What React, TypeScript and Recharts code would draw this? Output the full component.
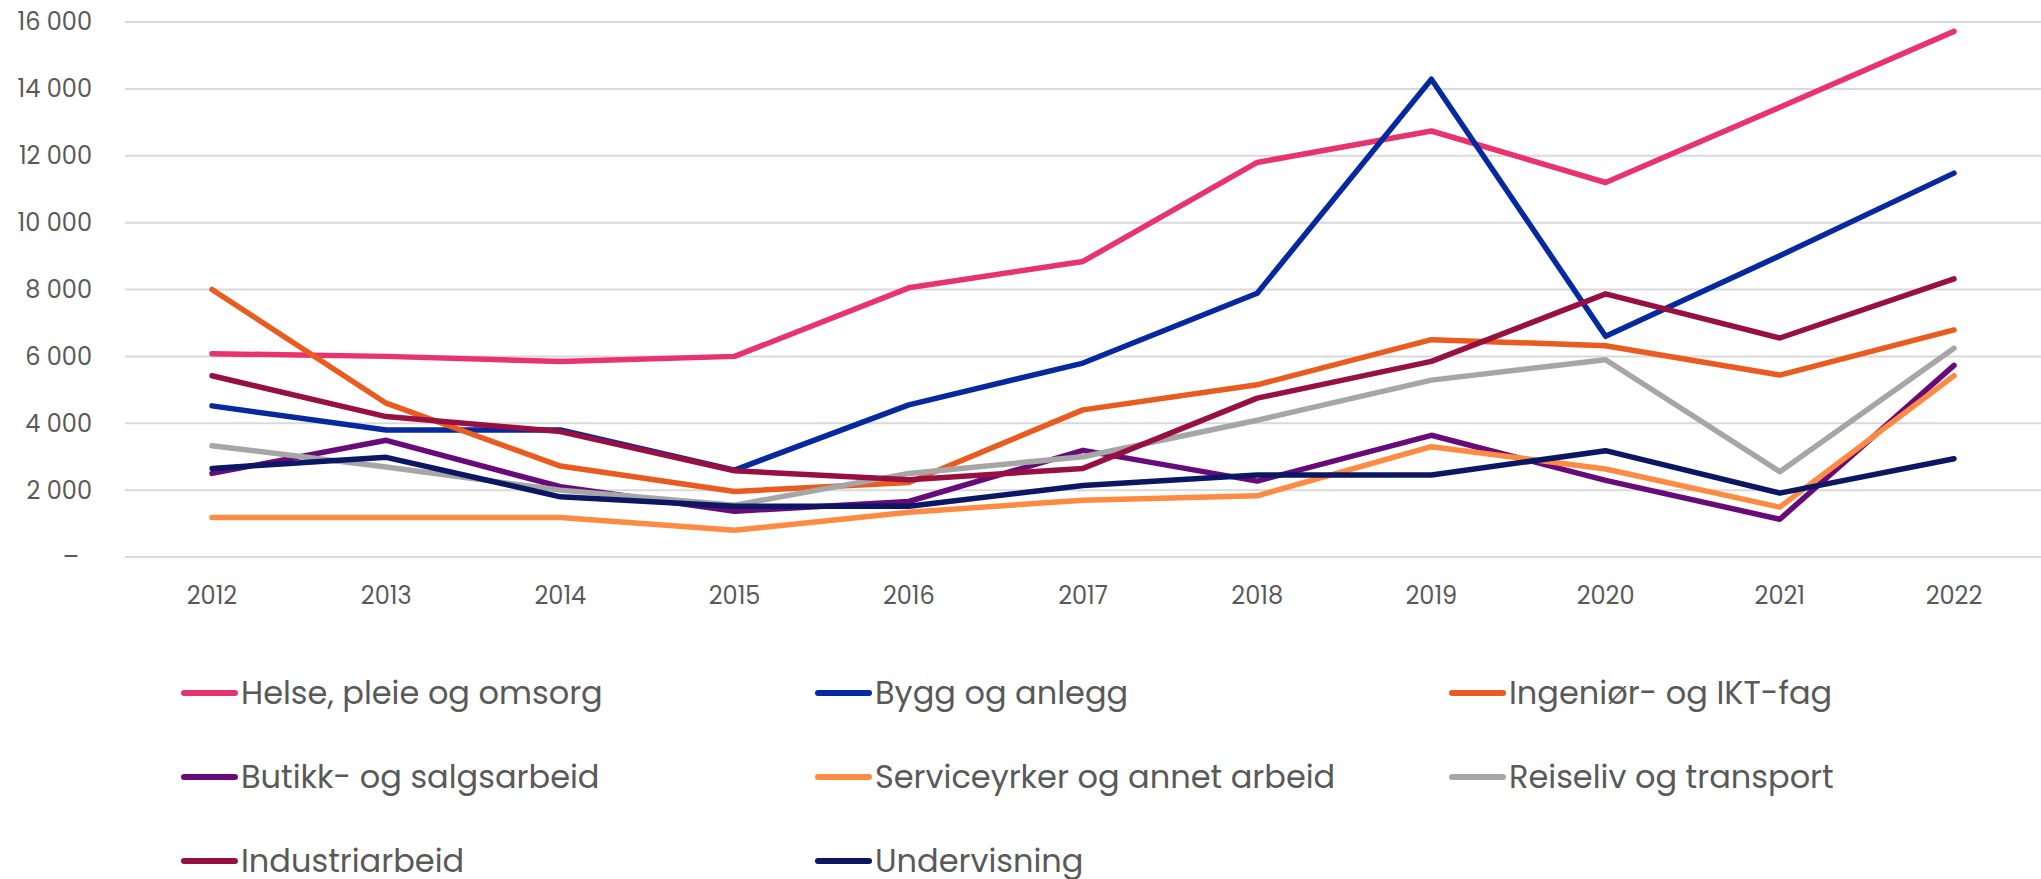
import React from 'react';
import { LineChart, Line, XAxis, YAxis, CartesianGrid } from 'recharts';

const years = ['2012', '2013', '2014', '2015', '2016', '2017', '2018', '2019', '2020', '2021', '2022'];

const helse = [6080, 6000, 5850, 6000, 8050, 8840, 11800, 12740, 11200, 13450, 15720];
const bygg = [4520, 3800, 3800, 2600, 4550, 5800, 7890, 14290, 6600, 9010, 11480];
const ingenior = [8000, 4600, 2720, 1960, 2230, 4400, 5150, 6500, 6320, 5440, 6790];
const butikk = [2500, 3490, 2100, 1370, 1660, 3190, 2270, 3640, 2290, 1130, 5730];
const service = [1180, 1180, 1180, 800, 1340, 1700, 1830, 3300, 2630, 1490, 5420];
const reiseliv = [3330, 2690, 2000, 1550, 2500, 3000, 4090, 5290, 5900, 2550, 6240];
const industri = [5420, 4200, 3750, 2580, 2310, 2650, 4750, 5850, 7870, 6550, 8320];
const undervisning = [2650, 2980, 1800, 1520, 1520, 2140, 2450, 2450, 3180, 1910, 2940];

const yTicks = [0, 2000, 4000, 6000, 8000, 10000, 12000, 14000, 16000];

const series = [
  { key: 'helse', name: 'Helse, pleie og omsorg', color: '#E8336F', values: helse },
  { key: 'bygg', name: 'Bygg og anlegg', color: '#0629A0', values: bygg },
  { key: 'ingenior', name: 'Ingeniør- og IKT-fag', color: '#EA5B1F', values: ingenior },
  { key: 'butikk', name: 'Butikk- og salgsarbeid', color: '#680A7A', values: butikk },
  { key: 'service', name: 'Serviceyrker og annet arbeid', color: '#FF8B42', values: service },
  { key: 'reiseliv', name: 'Reiseliv og transport', color: '#A6A6A6', values: reiseliv },
  { key: 'industri', name: 'Industriarbeid', color: '#981042', values: industri },
  { key: 'undervisning', name: 'Undervisning', color: '#0B1763', values: undervisning },
];

const data = years.map((year, i) => {
  const row: Record<string, string | number> = { year };
  series.forEach((s) => {
    row[s.key] = s.values[i];
  });
  return row;
});

const FONT = 'Poppins, Inter, sans-serif';
const TEXT = '#595959';

function fmt(v: number) {
  if (v === 0) return '–';
  return String(v).replace(/\B(?=(\d{3})+(?!\d))/g, ' ');
}

function YTick({ x, y, payload }: any) {
  const v = payload.value as number;
  return (
    <text
      x={v === 0 ? x - 13 : x}
      y={y}
      dy="0.35em"
      textAnchor="end"
      fill={TEXT}
      fontSize={24}
      fontWeight={400}
      fontFamily={FONT}
    >
      {fmt(v)}
    </text>
  );
}

function ChartLegend() {
  return (
    <div
      style={{
        position: 'absolute',
        left: 181,
        top: 651,
        display: 'grid',
        gridTemplateColumns: 'repeat(3, 634px)',
        gridAutoRows: '84px',
        fontFamily: FONT,
        fontWeight: 400,
        fontSize: 32,
        color: TEXT,
      }}
    >
      {series.map((s) => (
        <div key={s.key} style={{ display: 'flex', alignItems: 'center' }}>
          <svg width={60} height={10} style={{ flex: 'none' }}>
            <line x1={3} y1={5} x2={54} y2={5} stroke={s.color} strokeWidth={6} strokeLinecap="round" />
          </svg>
          <span style={{ whiteSpace: 'nowrap' }}>{s.name}</span>
        </div>
      ))}
    </div>
  );
}

export default function App() {
  return (
    <div style={{ position: 'absolute', left: 0, top: 0, width: 2041, height: 879, background: '#fff' }}>
      <LineChart
        width={2041}
        height={640}
        data={data}
        margin={{ top: 22, right: 0, bottom: 23, left: 0 }}
      >
        <CartesianGrid vertical={false} stroke="#D9D9D9" strokeWidth={2} />
        <XAxis
          dataKey="year"
          axisLine={false}
          tickLine={false}
          tickSize={0}
          tickMargin={30}
          height={60}
          interval={0}
          padding={{ left: 87, right: 87 }}
          tick={{ fill: TEXT, fontSize: 24, fontWeight: 400, fontFamily: FONT }}
        />
        <YAxis
          width={125}
          domain={[0, 16000]}
          ticks={yTicks}
          interval={0}
          axisLine={false}
          tickLine={false}
          tickSize={0}
          tickMargin={33}
          tick={<YTick />}
        />
        {series.map((s) => (
          <Line
            key={s.key}
            type="linear"
            dataKey={s.key}
            name={s.name}
            stroke={s.color}
            strokeWidth={5.5}
            strokeLinecap="round"
            strokeLinejoin="round"
            dot={false}
            activeDot={false}
            isAnimationActive={false}
          />
        ))}
      </LineChart>
      <ChartLegend />
    </div>
  );
}
